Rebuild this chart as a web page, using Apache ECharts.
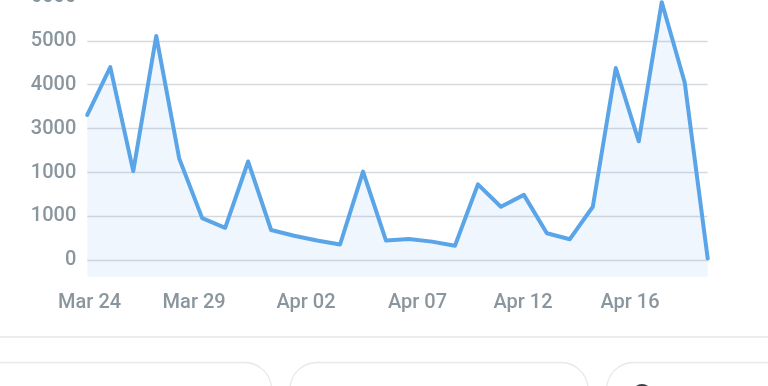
<!DOCTYPE html>
<html>
<head>
<meta charset="utf-8">
<script src="https://cdn.jsdelivr.net/npm/echarts@6/dist/echarts.min.js"></script>
<style>
  html, body { margin: 0; padding: 0; background: #ffffff; }
  #chart { width: 768px; height: 386px; }
</style>
</head>
<body>
<div id="chart"></div>
<script>
const categories = ['Mar 24','Mar 25','Mar 26','Mar 27','Mar 28','Mar 29','Mar 30','Mar 31',
  'Apr 01','Apr 02','Apr 03','Apr 04','Apr 05','Apr 06','Apr 07','Apr 08','Apr 09','Apr 10',
  'Apr 11','Apr 12','Apr 13','Apr 14','Apr 15','Apr 16','Apr 17','Apr 18','Apr 19','Apr 20'];
const values = [3310, 4400, 2030, 5110, 2320, 960, 740, 2250, 690, 560, 450, 360, 2020, 450,
  485, 425, 330, 1730, 1220, 1490, 615, 480, 1220, 4380, 2710, 5880, 4050, 40];
const yTickValues = [0, 1000, 2000, 3000, 4000, 5000, 6000];
const yTickLabels = ['0', '1000', '1000', '3000', '4000', '5000', '6000'];
const xTickLabels = ['Mar 24', 'Mar 29', 'Apr 02', 'Apr 07', 'Apr 12', 'Apr 16'];
const xTickPositions = [0.1, 4.65, 9.52, 14.37, 18.96, 23.62];

const labelColor = '#8a969e';
const lineColor = '#5aa5e8';
const chart = echarts.init(document.getElementById('chart'), null, { renderer: 'canvas' });

chart.setOption({
  backgroundColor: '#ffffff',
  animation: false,
  grid: [
    { left: 87.3, right: 60.3, top: -3.1, bottom: 125.7, containLabel: false, outerBoundsMode: 'none' },
    { left: 87.3, right: 60.3, top: -3.1, bottom: 109.3, containLabel: false, outerBoundsMode: 'none' }
  ],
  xAxis: [
    {
      gridIndex: 0, type: 'value', min: 0, max: categories.length - 1,
      axisLine: { show: false }, axisTick: { show: false }, splitLine: { show: false },
      axisLabel: {
        customValues: xTickPositions,
        margin: 33, fontFamily: 'Roboto', fontSize: 20, fontWeight: 500, color: labelColor,
        formatter: function (v) {
          const i = xTickPositions.findIndex(p => Math.abs(p - v) < 1e-6);
          return i >= 0 ? xTickLabels[i] : '';
        }
      }
    },
    {
      gridIndex: 1, type: 'category', boundaryGap: false, data: categories, show: false
    }
  ],
  yAxis: [
    {
      gridIndex: 0, type: 'value', min: yTickValues[0], max: yTickValues[yTickValues.length - 1], interval: 1000,
      axisLine: { show: false }, axisTick: { show: false },
      splitLine: { show: true, lineStyle: { color: '#d5dadf', width: 1.3 } },
      axisLabel: {
        margin: 11, fontFamily: 'Roboto', fontSize: 20, fontWeight: 500, color: labelColor,
        formatter: function (v) {
          const i = yTickValues.indexOf(v);
          return i >= 0 ? yTickLabels[i] : '';
        }
      }
    },
    { gridIndex: 1, type: 'value', min: -374, max: 6000, show: false }
  ],
  series: [{
    type: 'line',
    xAxisIndex: 1, yAxisIndex: 1,
    data: values,
    symbol: 'none',
    smooth: false,
    lineStyle: { color: lineColor, width: 4, join: 'round', cap: 'round' },
    itemStyle: { color: lineColor },
    areaStyle: { origin: 'start', color: 'rgba(90,165,232,0.14)' },
    z: 3
  }],
  graphic: [
    { type: 'line', shape: { x1: 0, y1: 337, x2: 768, y2: 337 }, style: { stroke: '#e4e7ea', lineWidth: 1.5 } },
    { type: 'rect', shape: { x: -30, y: 362.5, width: 301.5, height: 80, r: 27 }, style: { fill: '#fff', stroke: '#e6e8ea', lineWidth: 1.3 } },
    { type: 'rect', shape: { x: 290, y: 362.5, width: 298, height: 80, r: 27 }, style: { fill: '#fff', stroke: '#e6e8ea', lineWidth: 1.3 } },
    { type: 'rect', shape: { x: 606.7, y: 362.5, width: 200, height: 80, r: 27 }, style: { fill: '#fff', stroke: '#e6e8ea', lineWidth: 1.3 } },
    { type: 'circle', shape: { cx: 642, cy: 394, r: 9 }, style: { fill: 'none', stroke: '#3a3f44', lineWidth: 2 } }
  ]
});
</script>
</body>
</html>
